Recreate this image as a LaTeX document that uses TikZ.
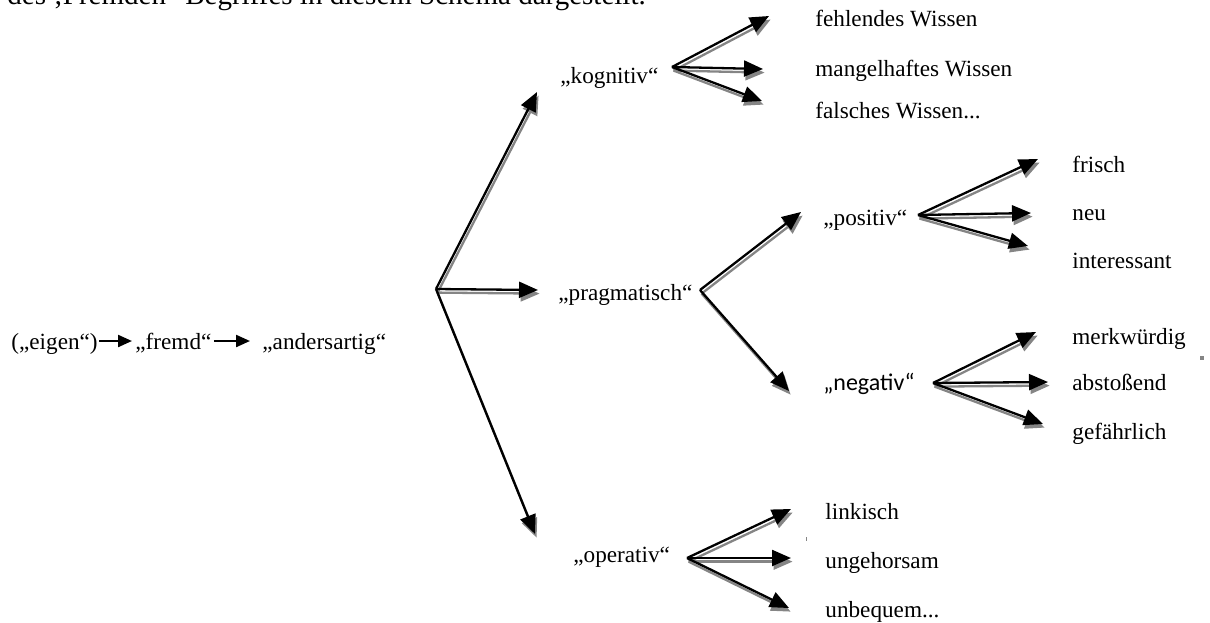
\documentclass[tikz,border=0pt]{standalone}
\usepackage{fontspec}
\usepackage{tikz}
\usetikzlibrary{arrows.meta}
\setmainfont{Liberation Serif}
\newfontfamily\calib{Carlito}
\definecolor{schatten}{HTML}{858585}

\tikzset{
  txt/.style={inner sep=0pt, anchor=base west, font=\fontsize{11.6}{13}\selectfont},
  pfeilkopf/.style={-{Triangle[length=9.5pt,width=8pt]}, line width=1.15pt},
  schattenlage/.style={draw=schatten, transform canvas={shift={(0.8pt,-1.8pt)}}},
  klein/.style={-{Triangle[length=7pt,width=6pt]}, line width=1.1pt}
}
% arrow with its grey shadow
\newcommand{\pfeil}[2]{%
  \draw[pfeilkopf, schattenlage] (#1) -- (#2);
  \draw[pfeilkopf] (#1) -- (#2);}

\begin{document}
\begin{tikzpicture}[x=0.5pt,y=-0.5pt]
% pixel grid of the scan: x to the right, y downwards, 1210 x 622
\useasboundingbox (0,0) rectangle (1210,622);
\node[txt, font=\fontsize{14.5}{17}\selectfont] (kopf) at (7,4) {des ‚Fremden‘-Begriffes in diesem Schema dargestellt.};

% left chain
\node[txt] (eig) at (11,349) {(„eigen“)};
\node[txt] (frd) at (135,349) {„fremd“};
\node[txt] (and) at (262,349) {„andersartig“};
\draw[klein] ([xshift=0.5pt,yshift=4pt]eig.base east) -- ([xshift=-1.5pt,yshift=4pt]frd.base west);
\draw[klein] ([xshift=1pt,yshift=4pt]frd.base east) -- ([xshift=-6pt,yshift=4pt]and.base west);

% first level
\coordinate (jun) at (436,289);
\node[txt] (kog) at (560,83) {„kognitiv“};
\node[txt] (prag) at (558,300) {„pragmatisch“};
\node[txt] (oper) at (573,562) {„operativ“};
\coordinate (kog-p) at (537,92);
\coordinate (prag-p) at (538,290);
\coordinate (oper-p) at (535,534);
\foreach \z in {kog,prag,oper} {\pfeil{jun}{\z-p}}

% kognitiv
\node[txt] (fehl) at (815,26) {fehlendes Wissen};
\node[txt] (mang) at (815,76) {mangelhaftes Wissen};
\node[txt] (fals) at (815,118) {falsches Wissen...};
\coordinate (kog-f) at (672,67);
\coordinate (fehl-p) at (769,16);
\coordinate (mang-p) at (763,69);
\coordinate (fals-p) at (762,101);
\foreach \z in {fehl,mang,fals} {\pfeil{kog-f}{\z-p}}

% pragmatisch
\node[txt] (pos) at (823,225) {„positiv“};
\node[txt, font=\fontsize{12}{14}\calib] (neg) at (823,390) {„negativ“};
\coordinate (prag-f) at (700,290);
\coordinate (pos-p) at (801,212);
\coordinate (neg-p) at (789,391);
\foreach \z in {pos,neg} {\pfeil{prag-f}{\z-p}}

% positiv
\node[txt] (fri) at (1072,172) {frisch};
\node[txt] (neu) at (1072,220) {neu};
\node[txt] (int) at (1072,268) {interessant};
\coordinate (pos-f) at (918,215);
\coordinate (fri-p) at (1038,159);
\coordinate (neu-p) at (1031,213);
\coordinate (int-p) at (1028,246);
\foreach \z in {fri,neu,int} {\pfeil{pos-f}{\z-p}}

% negativ
\node[txt] (merk) at (1072,344) {merkwürdig};
\node[txt] (abst) at (1072,390) {abstoßend};
\node[txt] (gef) at (1072,439) {gefährlich};
\coordinate (neg-f) at (933,383);
\coordinate (merk-p) at (1036,332);
\coordinate (abst-p) at (1048,382);
\coordinate (gef-p) at (1043,424);
\foreach \z in {merk,abst,gef} {\pfeil{neg-f}{\z-p}}

% operativ
\node[txt] (link) at (825,519) {linkisch};
\node[txt] (ungeh) at (825,568) {ungehorsam};
\node[txt] (unbeq) at (825,617) {unbequem...};
\coordinate (oper-f) at (687,558);
\coordinate (link-p) at (791,509);
\coordinate (ungeh-p) at (791,558);
\coordinate (unbeq-p) at (789,608);
\foreach \z in {link,ungeh,unbeq} {\pfeil{oper-f}{\z-p}}

% specks of the scan
\fill[schatten] (1200,356) rectangle (1204,360);
\draw[schatten, line width=0.4pt] (806,537) -- (806,541);
\end{tikzpicture}
\end{document}
